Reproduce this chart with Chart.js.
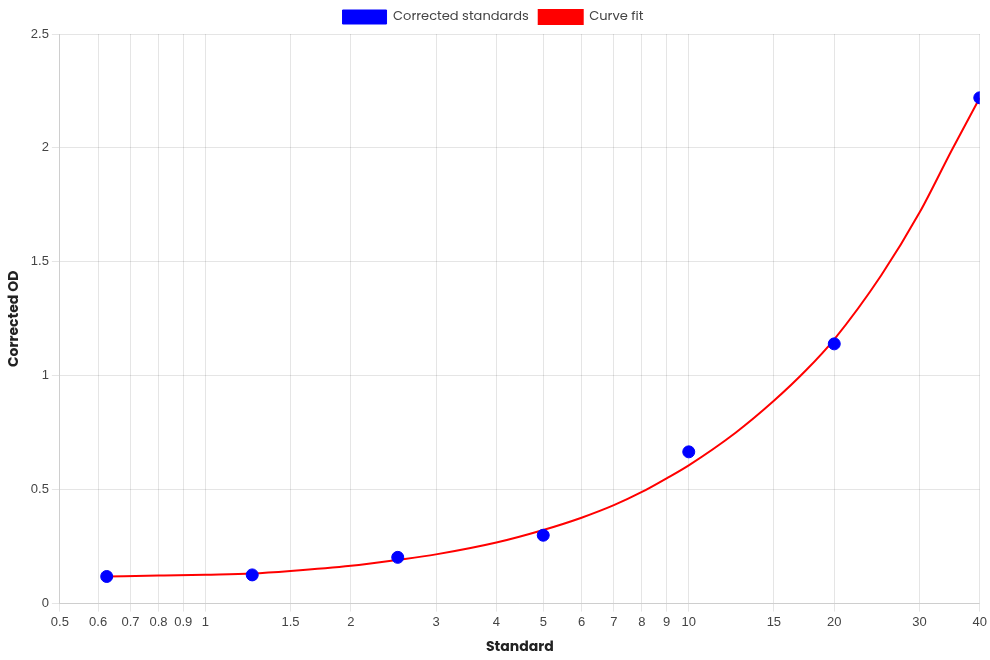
<!DOCTYPE html>
<html>
<head>
<meta charset="utf-8">
<script src="https://cdn.jsdelivr.net/npm/chart.js@4.4.1/dist/chart.umd.min.js"></script>
<style>
    html, body { margin: 0; padding: 0; background: #fff; }
    #wrap { width: 990px; height: 660px; }
</style>
</head>
<body>
<div id="wrap"><canvas id="stdChart"></canvas></div>
<script>
// standards (x) and measured OD
const standards = [0.625, 1.25, 2.5, 5, 10, 20, 40];
const correctedOD = [0.119, 0.126, 0.203, 0.30, 0.666, 1.14, 2.22];

// curve fit
const fitX = [0.625, 0.8, 1, 1.25, 1.5, 2, 2.5, 3, 4, 5, 6, 7, 8, 9, 10, 12.5, 15, 17.5, 20, 25, 30, 35, 40];
const fitY = [0.119, 0.123, 0.127, 0.132, 0.143, 0.166, 0.192, 0.216, 0.268, 0.323, 0.377, 0.432, 0.49, 0.55, 0.607, 0.75, 0.89, 1.025, 1.16, 1.44, 1.715, 1.99, 2.22];

const xTicks = [0.5, 0.6, 0.7, 0.8, 0.9, 1, 1.5, 2, 3, 4, 5, 6, 7, 8, 9, 10, 15, 20, 30, 40];

const titleFont = { family: "'Poppins', 'Noto Sans', sans-serif", size: 14, weight: "bold" };
const tickFont = { family: "'Liberation Sans', Arial, sans-serif", size: 13 };

const ctx = document.getElementById("stdChart").getContext("2d");

new Chart(ctx, {
    type: "scatter",
    data: {
        datasets: [
            {
                label: "Corrected standards",
                data: standards.map((x, i) => ({ x: x, y: correctedOD[i] })),
                backgroundColor: "#0000ff",
                borderColor: "#0000ff",
                pointRadius: 6,
                pointHoverRadius: 6,
                showLine: false
            },
            {
                label: "Curve fit",
                data: fitX.map((x, i) => ({ x: x, y: fitY[i] })),
                backgroundColor: "#ff0000",
                borderColor: "#ff0000",
                borderWidth: 2,
                pointRadius: 0,
                showLine: true,
                cubicInterpolationMode: "monotone"
            }
        ]
    },
    options: {
        responsive: true,
        maintainAspectRatio: false,
        animation: false,
        layout: { padding: { right: 4 } },
        plugins: {
            legend: {
                labels: {
                    boxWidth: 44,
                    boxHeight: 14,
                    color: "#444",
                    font: { family: "'Poppins', 'Noto Sans', sans-serif", size: 13 }
                }
            },
            tooltip: { enabled: false }
        },
        scales: {
            x: {
                type: "logarithmic",
                min: 0.5,
                max: 40,
                afterBuildTicks: axis => {
                    axis.ticks = xTicks.map(v => ({ value: v }));
                },
                ticks: {
                    color: "#444",
                    font: tickFont,
                    autoSkip: false,
                    maxRotation: 0,
                    callback: v => String(v)
                },
                title: {
                    display: true,
                    text: "Standard",
                    color: "#222",
                    font: titleFont,
                    padding: { top: 6, bottom: 4 }
                }
            },
            y: {
                min: 0,
                max: 2.5,
                ticks: {
                    stepSize: 0.5,
                    color: "#444",
                    font: tickFont,
                    callback: v => String(v)
                },
                title: {
                    display: true,
                    text: "Corrected OD",
                    color: "#222",
                    font: titleFont,
                    padding: { top: 6, bottom: 5 }
                }
            }
        }
    }
});
</script>
</body>
</html>
